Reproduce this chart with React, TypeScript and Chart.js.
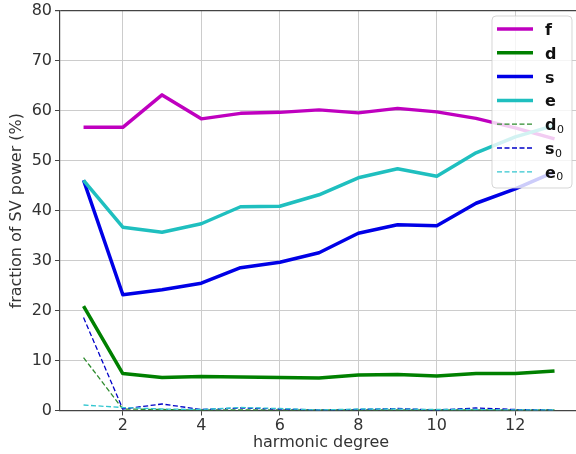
import React, { useEffect, useRef } from "react";
import { Chart, registerables } from "chart.js";

Chart.register(...registerables);

// Harmonic degrees on the x axis
const degrees = [1, 2, 3, 4, 5, 6, 7, 8, 9, 10, 11, 12, 13];

// Fraction of SV power (%) per component
const fValues = [56.7, 56.7, 63.2, 58.4, 59.5, 59.7, 60.2, 59.6, 60.5, 59.8, 58.5, 56.6, 54.4];
const dValues = [20.9, 7.4, 6.6, 6.8, 6.7, 6.6, 6.5, 7.1, 7.2, 6.9, 7.4, 7.4, 7.9];
const sValues = [46.1, 23.2, 24.2, 25.5, 28.6, 29.7, 31.6, 35.5, 37.2, 37.0, 41.5, 44.4, 47.8];
const eValues = [46.1, 36.7, 35.7, 37.4, 40.8, 40.9, 43.2, 46.6, 48.4, 46.9, 51.6, 54.8, 57.1];
const d0Values = [10.6, 0.3, 0.2, 0.1, 0.1, 0.1, 0.1, 0.1, 0.1, 0.1, 0.1, 0.1, 0.1];
const s0Values = [18.6, 0.3, 1.3, 0.2, 0.5, 0.3, 0.1, 0.2, 0.4, 0.1, 0.5, 0.2, 0.1];
const e0Values = [1.1, 0.6, 0.3, 0.2, 0.6, 0.4, 0.1, 0.3, 0.3, 0.2, 0.2, 0.1, 0.1];

// Legend names; a trailing digit is rendered as a subscript
const seriesNames = ["f", "d", "s", "e", "d0", "s0", "e0"];
const seriesColors = ["#bf00bf", "#008000", "#0000e6", "#1fbfbf", "#2e8b2e", "#0000c8", "#33c6d0"];

const xTicks = [2, 4, 6, 8, 10, 12];
const yTicks = [0, 10, 20, 30, 40, 50, 60, 70, 80];

const FONT = "'DejaVu Sans', sans-serif";
const GRID = "#cccccc";
const SPINE = "#444444";

// The figure is a little wider than the viewport; its right edge is clipped.
const CANVAS_W = 582;
const CANVAS_H = 454;

const legendPlugin = {
  id: "boxLegend",
  afterDatasetsDraw(chart: any) {
    const ctx = chart.ctx;
    const bx = 492;
    const by = 16;
    const bw = 80;
    const bh = 172;
    ctx.save();
    ctx.beginPath();
    (ctx as any).roundRect(bx, by, bw, bh, 4);
    ctx.fillStyle = "rgba(255,255,255,0.8)";
    ctx.fill();
    ctx.strokeStyle = "rgba(204,204,204,0.8)";
    ctx.lineWidth = 1;
    ctx.stroke();

    chart.data.datasets.forEach((ds: any, i: number) => {
      const y = 29 + i * 23.8;
      ctx.beginPath();
      ctx.strokeStyle = ds.borderColor;
      ctx.lineWidth = ds.borderWidth;
      ctx.setLineDash(ds.borderDash || []);
      ctx.moveTo(497, y);
      ctx.lineTo(533, y);
      ctx.stroke();
      ctx.setLineDash([]);

      const label: string = ds.label;
      const m = label.match(/^(.*?)(\d*)$/);
      const base = m ? m[1] : label;
      const sub = m ? m[2] : "";
      ctx.fillStyle = "#111";
      ctx.textBaseline = "alphabetic";
      ctx.textAlign = "left";
      ctx.font = `bold 16px ${FONT}`;
      ctx.fillText(base, 545, y + 6);
      if (sub) {
        const w = ctx.measureText(base).width;
        ctx.font = `11px ${FONT}`;
        ctx.fillText(sub, 545 + w + 0.5, y + 8.5);
      }
    });
    ctx.restore();
  },
};

export default function App() {
  const canvasRef = useRef<HTMLCanvasElement | null>(null);

  useEffect(() => {
    document.body.style.margin = "0";
    document.body.style.overflow = "hidden";
    document.documentElement.style.overflow = "hidden";
    const canvas = canvasRef.current;
    if (!canvas) return;

    const series = [fValues, dValues, sValues, eValues, d0Values, s0Values, e0Values];
    const datasets = series.map((vals, i) => {
      const dashed = i >= 4;
      return {
        label: seriesNames[i],
        data: degrees.map((x, k) => ({ x, y: vals[k] })),
        borderColor: seriesColors[i],
        backgroundColor: seriesColors[i],
        borderWidth: dashed ? 1.3 : 3.5,
        borderDash: dashed ? [5, 2.5] : [],
        borderJoinStyle: "round" as const,
        pointRadius: 0,
        tension: 0,
        fill: false,
        order: series.length - i,
      };
    });

    const onXTick = (c: any) => !!(c.tick && xTicks.includes(c.tick.value));

    const chart = new Chart(canvas, {
      type: "line",
      data: { datasets },
      options: {
        animation: false,
        responsive: false,
        layout: { padding: { top: 8, left: 0, right: 0, bottom: 0 } },
        plugins: {
          legend: { display: false },
          tooltip: { enabled: false },
        },
        scales: {
          x: {
            type: "linear",
            min: 0.4,
            max: 13.7,
            afterBuildTicks: (scale: any) => {
              scale.ticks = xTicks.map((v) => ({ value: v }));
            },
            afterFit: (scale: any) => {
              scale.height = 43.5;
            },
            grid: {
              color: (c: any) => (onXTick(c) ? GRID : "rgba(0,0,0,0)"),
              lineWidth: 1,
              tickColor: (c: any) => (onXTick(c) ? SPINE : "rgba(0,0,0,0)"),
              tickLength: 5,
            },
            border: { color: SPINE, width: 1.2 },
            ticks: {
              color: "#333",
              font: { family: FONT, size: 16, lineHeight: 1 },
              padding: 2,
              maxRotation: 0,
            },
            title: {
              display: true,
              text: "harmonic degree",
              color: "#333",
              font: { family: FONT, size: 16, lineHeight: 1.2 },
              padding: { top: 0, bottom: 2 },
              align: "center",
            },
          },
          y: {
            type: "linear",
            min: 0,
            max: 80,
            afterBuildTicks: (scale: any) => {
              scale.ticks = yTicks.map((v) => ({ value: v }));
            },
            afterFit: (scale: any) => {
              scale.width = 60;
            },
            grid: {
              color: (c: any) => (c.tick && c.tick.value === 80 ? SPINE : GRID),
              lineWidth: (c: any) => (c.tick && c.tick.value === 80 ? 1.2 : 1),
              tickColor: SPINE,
              tickLength: 5,
            },
            border: { color: SPINE, width: 1.2 },
            ticks: {
              color: "#333",
              font: { family: FONT, size: 16, lineHeight: 1 },
              padding: 3,
            },
            title: {
              display: true,
              text: "fraction of SV power (%)",
              color: "#333",
              font: { family: FONT, size: 16, lineHeight: 1.2 },
              padding: { top: 7, bottom: 0 },
            },
          },
        },
      },
      plugins: [legendPlugin],
    });

    return () => chart.destroy();
  }, []);

  return (
    <div style={{ width: 576, height: CANVAS_H, overflow: "hidden", background: "#fff" }}>
      <canvas ref={canvasRef} width={CANVAS_W} height={CANVAS_H} style={{ display: "block" }} />
    </div>
  );
}
